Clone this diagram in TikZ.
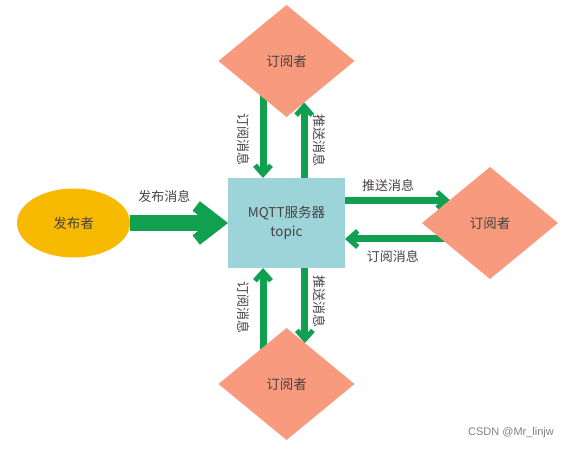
\documentclass[tikz,border=0pt]{standalone}
\usepackage{fontspec}
\setmainfont{Noto Sans CJK SC}
\newfontfamily\markfont{Liberation Sans}
\usepackage{xcolor}
\usetikzlibrary{shapes.geometric,arrows.meta,positioning,calc,backgrounds}

\definecolor{subfill}{RGB}{248,154,126}
\definecolor{serverfill}{RGB}{157,212,217}
\definecolor{pubfill}{RGB}{247,186,0}
\definecolor{flowgreen}{RGB}{16,160,80}
\definecolor{txtgray}{RGB}{72,66,66}

\begin{document}
\begin{tikzpicture}[
    font=\fontsize{13pt}{15pt}\selectfont,
    text=txtgray,
    server/.style={rectangle, fill=serverfill, minimum width=117pt, minimum height=90pt, align=center, outer sep=0pt, font=\fontsize{13.5pt}{19pt}\selectfont},
    sub/.style={diamond, fill=subfill, minimum width=136pt, minimum height=112pt, inner sep=0pt, outer sep=0pt, font=\fontsize{13.5pt}{15pt}\selectfont},
    pub/.style={ellipse, fill=pubfill, minimum width=113pt, minimum height=69pt, outer sep=0pt, font=\fontsize{13.5pt}{15pt}\selectfont},
    flow/.style={draw=flowgreen, line width=7pt, -{Straight Barb[length=9pt, width=16pt, line width=5pt]}},
    bigflow/.style={draw=flowgreen, line width=16pt, -{Straight Barb[length=22pt, width=34pt, line width=12pt]}},
    vlabel/.style={rotate=-90}
]
    \useasboundingbox (0,0) rectangle (576pt,-449pt);

    \node[server] (broker) at (286.5pt,-223pt) {MQTT服务器\\topic};
    \node[sub, above=61pt of broker] (subtop) {订阅者};
    \node[sub, right=77pt of broker] (subright) {订阅者};
    \node[sub, below=60pt of broker] (subbottom) {订阅者};
    \node[pub, left=98pt of broker] (pub) {发布者};

    \coordinate (toptip) at ($(subtop.south)!0.26!(subtop.east)$);
    \coordinate (righttip) at ($(subright.west)!0.41!(subright.north)$);
    \coordinate (rightstart) at ([yshift=-16pt]subright.center);
    \coordinate (bottomtip) at ($(subbottom.north)!0.27!(subbottom.east)$);

    \begin{scope}[on background layer]
        \draw[bigflow] (pub) -- (broker) node[pos=0.35, above=9pt] {发布消息};

        \draw[flow] ([xshift=-23.5pt]subtop.center) -- ([xshift=-23.5pt]subtop.center |- broker.north)
            node[pos=0.67, xshift=-19pt, vlabel] {订阅消息};
        \draw[flow] (toptip |- broker.north) -- (toptip)
            node[midway, xshift=15pt, vlabel] {推送消息};

        \draw[flow] (broker.east |- righttip) -- (righttip)
            node[pos=0.41, above=2pt] {推送消息};
        \draw[flow] (rightstart) -- (broker.east |- rightstart)
            node[pos=0.67, below=5pt] {订阅消息};

        \draw[flow] ([xshift=-23.5pt]subbottom.center) -- ([xshift=-23.5pt]subbottom.center |- broker.south)
            node[pos=0.66, xshift=-19pt, vlabel] {订阅消息};
        \draw[flow] (bottomtip |- broker.south) -- (bottomtip)
            node[pos=0.45, xshift=15pt, vlabel] {推送消息};
    \end{scope}

    \node[font=\markfont\fontsize{11pt}{13pt}\selectfont, text=gray] (mark) at (511pt,-433pt) {CSDN @Mr\_linjw};
\end{tikzpicture}
\end{document}
